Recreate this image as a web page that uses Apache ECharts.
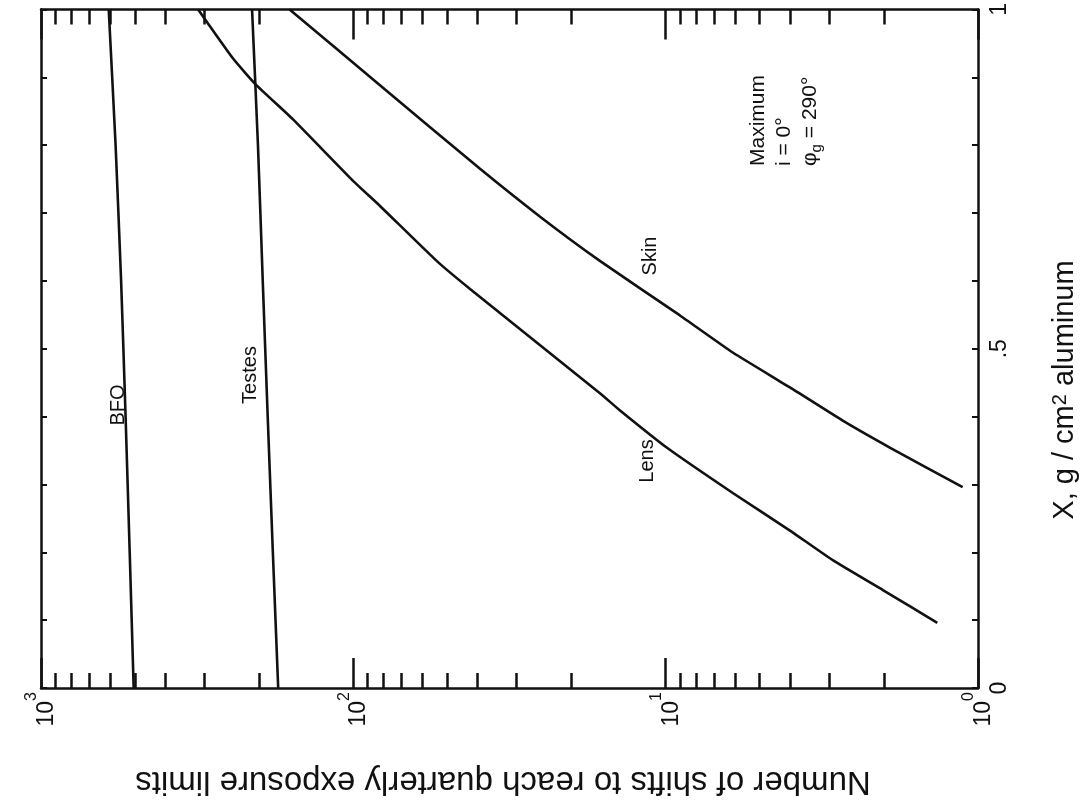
<!DOCTYPE html>
<html>
<head>
<meta charset="utf-8">
<script src="https://cdn.jsdelivr.net/npm/echarts@6/dist/echarts.min.js"></script>
<style>
html,body{margin:0;padding:0;background:#fff;}
#chart{width:1085px;height:800px;}
</style>
</head>
<body>
<div id="chart"></div>
<script>
// Thickness X (g/cm^2 aluminum) and number of shifts
const bfoX = [0, 0.2, 0.4, 0.6, 0.8, 1.0];
const bfoShifts = [505, 520, 536, 554, 577, 607];
const testesX = [0, 0.2, 0.4, 0.6, 0.8, 1.0];
const testesShifts = [174, 181, 188, 195, 202, 211];
const lensX = [0.096, 0.144, 0.188, 0.232, 0.287, 0.354, 0.409, 0.434, 0.588, 0.629, 0.710, 0.747, 0.838, 0.890, 0.928, 1.0];
const lensShifts = [1.35, 2.01, 2.91, 4.0, 6.08, 9.9, 14.0, 16.2, 42.3, 54, 82, 100, 156, 206, 243, 314];
const skinX = [0.296, 0.354, 0.394, 0.443, 0.494, 0.549, 0.629, 0.693, 0.765, 0.888, 1.0];
const skinShifts = [1.12, 1.91, 2.71, 4.0, 6.08, 9.0, 16.2, 25.0, 39.3, 82, 160];

const shiftLabelValues = [1, 10, 100, 1000];
const shiftMajorTicks = [1, 10, 100, 1000];
const shiftMinorTicks = [2,3,4,5,6,7,8,9,20,30,40,50,60,70,80,90,200,300,400,500,600,700,800,900];
const thicknessLabels = {0: '0', 0.5: '.5', 1: '1'};

const FONT = 'Liberation Sans';
const INK = '#111';

function pairs(xs, ys) { return xs.map((x, i) => [ys[i], x]); }

const chart = echarts.init(document.getElementById('chart'), null, {renderer: 'canvas'});

function logAxis(pos, major, showLabel, showLine) {
  return {
    type: 'log', logBase: 10, min: 1, max: 1000, inverse: true, position: pos,
    axisLine: {show: showLine, lineStyle: {color: INK, width: 2.5}},
    axisTick: {show: true, inside: true, length: major ? 30 : 15,
      customValues: major ? shiftMajorTicks : shiftMinorTicks,
      lineStyle: {color: INK, width: 2.5}},
    axisLabel: {show: showLabel, rotate: 90, margin: 4,
      customValues: shiftLabelValues,
      formatter: v => '{b|10}{s|' + Math.round(Math.log10(v)) + '}',
      rich: {
        b: {fontFamily: FONT, fontSize: 23, color: INK, lineHeight: 34, verticalAlign: 'bottom'},
        s: {fontFamily: FONT, fontSize: 16, color: INK, lineHeight: 16, verticalAlign: 'top'}
      }},
    splitLine: {show: false}
  };
}

function thickAxis(pos, showLabel) {
  return {
    type: 'value', min: 0, max: 1, interval: 0.1, position: pos,
    axisLine: {show: true, lineStyle: {color: INK, width: 2.5}},
    axisTick: {show: true, inside: true, length: 6, lineStyle: {color: INK, width: 2}},
    axisLabel: {show: showLabel, rotate: 90, margin: 10, fontFamily: FONT, fontSize: 23, color: INK,
      formatter: v => {
        const k = Math.round(v * 10) / 10;
        return thicknessLabels[k] !== undefined ? thicknessLabels[k] : '';
      }},
    splitLine: {show: false}
  };
}

const lineStyle = {color: INK, width: 2.6};
function curve(name, data) {
  return {name, type: 'line', data, xAxisIndex: 0, yAxisIndex: 0, smooth: 0.15,
    showSymbol: false, lineStyle, animation: false};
}

function rotLabel(text, x, y, size, align) {
  return {type: 'text', x, y, rotation: Math.PI / 2,
    style: {text, fontFamily: FONT, fontSize: size || 20, fill: INK,
      align: align || 'center', verticalAlign: 'middle'}};
}

chart.setOption({
  animation: false,
  backgroundColor: '#fff',
  grid: {left: 41, right: 107, top: 8, bottom: 112, containLabel: false},
  xAxis: [
    logAxis('bottom', true, true, true),
    logAxis('bottom', false, false, false),
    logAxis('top', true, false, true),
    logAxis('top', false, false, false)
  ],
  yAxis: [thickAxis('right', true), thickAxis('left', false)],
  series: [
    curve('BFO', pairs(bfoX, bfoShifts)),
    curve('Testes', pairs(testesX, testesShifts)),
    curve('Lens', pairs(lensX, lensShifts)),
    curve('Skin', pairs(skinX, skinShifts))
  ],
  graphic: [
    rotLabel('BFO', 118, 405),
    rotLabel('Testes', 250, 375),
    rotLabel('Lens', 647, 461),
    rotLabel('Skin', 650, 256),
    rotLabel('Maximum', 758, 166, 21, 'left'),
    rotLabel('i = 0°', 784, 166, 21, 'left'),
    {type: 'text', x: 810, y: 166, rotation: Math.PI / 2,
      style: {text: 'φ{sub|g} = 290°', fontFamily: FONT, fontSize: 21, fill: INK,
        align: 'left', verticalAlign: 'middle',
        rich: {sub: {fontFamily: FONT, fontSize: 15, fill: INK, verticalAlign: 'bottom', lineHeight: 28}}}},
    {type: 'text', x: 1065, y: 390, rotation: Math.PI / 2,
      style: {text: 'X, g / cm{sup|2} aluminum', fontFamily: FONT, fontSize: 29, fill: INK,
        align: 'center', verticalAlign: 'middle',
        rich: {sup: {fontFamily: FONT, fontSize: 20, fill: INK, verticalAlign: 'top', lineHeight: 20}}}},
    {type: 'text', x: 503, y: 781, rotation: Math.PI,
      style: {text: 'Number of shifts to reach quarterly exposure limits', fontFamily: FONT, fontSize: 33,
        fill: INK, align: 'center', verticalAlign: 'middle'}}
  ]
});
</script>
</body>
</html>
